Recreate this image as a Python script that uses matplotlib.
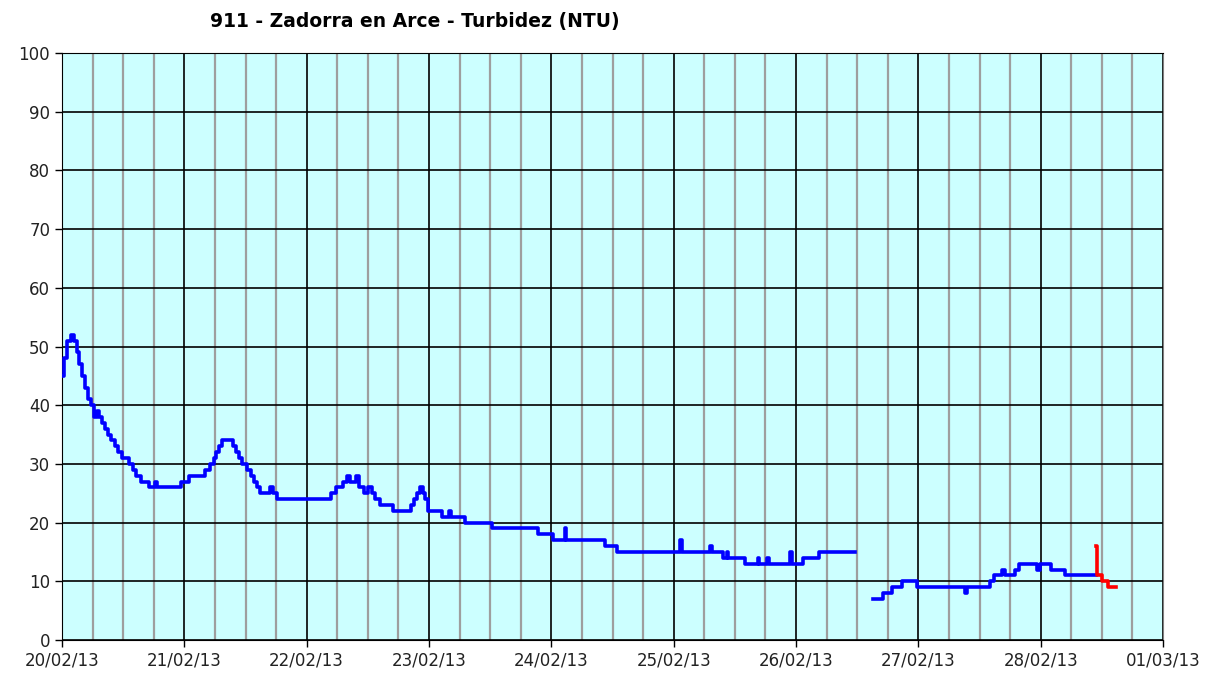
import matplotlib
matplotlib.use("Agg")
import matplotlib.pyplot as plt
import matplotlib.dates as mdates
import numpy as np
import pandas as pd

# Hours since 20/02/13 00:00 and turbidity (NTU)
start = pd.Timestamp("2013-02-20")

blue1_h = [0, 0.4, 1.0, 1.8, 2.4, 2.9, 3.3, 3.9, 4.5, 5.1, 5.7, 6.3, 6.9, 7.3, 7.8, 8.4,
           9.0, 9.6, 10.4, 11.0, 11.8, 13.1, 13.9, 14.5, 15.5, 17.1, 18.2, 18.6, 23.3, 24.9,
           28.0, 29.0, 29.8, 30.2, 30.8, 31.4, 33.5, 34.1, 34.7, 35.3, 36.3, 37.1, 37.6, 38.2,
           38.8, 40.8, 41.4, 42.2, 52.7, 53.7, 55.1, 55.9, 56.5, 57.6, 58.2, 59.2, 60.0, 60.8,
           61.4, 62.4, 64.9, 68.4, 69.0, 69.6, 70.2, 70.8, 71.2, 71.8, 74.5, 75.9, 76.3, 79.0,
           84.3, 93.3, 96.3, 98.6, 98.8, 106.5, 108.8, 121.2, 121.6, 127.1, 127.5, 129.6, 130.4,
           130.6, 133.9, 136.5, 136.8, 138.4, 138.7, 142.9, 143.3, 145.3, 148.6, 155.5]
blue1_v = [45, 48, 51, 52, 51, 49, 47, 45, 43, 41, 40, 38, 39, 38, 37, 36,
           35, 34, 33, 32, 31, 30, 29, 28, 27, 26, 27, 26, 27, 28,
           29, 30, 31, 32, 33, 34, 33, 32, 31, 30, 29, 28, 27, 26,
           25, 26, 25, 24, 25, 26, 27, 28, 27, 28, 26, 25, 26, 25,
           24, 23, 22, 23, 24, 25, 26, 25, 24, 22, 21, 22, 21, 20,
           19, 18, 17, 19, 17, 16, 15, 17, 15, 16, 15, 14, 15,
           14, 13, 14, 13, 14, 13, 15, 13, 14, 15, 15]

blue2_h = [159.2, 161.0, 162.9, 164.7, 167.8, 177.1, 177.6, 182.0, 182.9, 184.5, 185.1,
           186.9, 187.8, 191.2, 191.8, 194.1, 196.7, 202.9]
blue2_v = [7, 8, 9, 10, 9, 8, 9, 10, 11, 12, 11, 12, 13, 12, 13, 12, 11, 11]

red_h = [202.9, 203.1, 204.1, 205.2, 206.7]
red_v = [16, 11, 10, 9, 9]

def to_dates(hours):
    return start + pd.to_timedelta(hours, unit="h")

fig = plt.figure(figsize=(12.21, 6.8), dpi=100)
ax = fig.add_axes([62 / 1221, 1 - 640 / 680, (1163 - 62) / 1221, (640 - 53) / 680])
ax.set_facecolor("#CCFFFF")

ax.plot(to_dates(blue1_h), blue1_v, drawstyle="steps-post", color="#0000FF", lw=2.6, zorder=3)
ax.plot(to_dates(blue2_h), blue2_v, drawstyle="steps-post", color="#0000FF", lw=2.6, zorder=3)
ax.plot(to_dates(red_h), red_v, drawstyle="steps-post", color="#FF0000", lw=2.6, zorder=4)

ax.set_xlim(start, start + pd.Timedelta(days=9))
ax.set_ylim(0, 100)
ax.set_yticks(np.arange(0, 101, 10))

ax.xaxis.set_major_locator(mdates.DayLocator())
ax.xaxis.set_minor_locator(mdates.HourLocator(byhour=[6, 12, 18]))
ax.xaxis.set_major_formatter(mdates.DateFormatter("%d/%m/%y"))

ax.grid(which="minor", axis="x", color="#9E9E9E", lw=1.6, zorder=1)
ax.grid(which="major", axis="x", color="black", lw=1.2, zorder=2)
ax.grid(which="major", axis="y", color="black", lw=1.2, zorder=2)
ax.set_axisbelow(True)

ax.tick_params(which="major", length=5, width=1, labelsize=12, colors="black")
ax.tick_params(which="minor", length=0)
for lab in ax.get_xticklabels() + ax.get_yticklabels():
    lab.set_color("#222222")

for s in ["left", "bottom", "top"]:
    ax.spines[s].set_color("black")
ax.spines["right"].set_color("#808080")

fig.text(415 / 1221, 1 - 21 / 680, "911 - Zadorra en Arce - Turbidez (NTU)",
         ha="center", va="center", fontsize=13.5, fontweight="bold")

fig.savefig("out.png", dpi=100, facecolor="white")
